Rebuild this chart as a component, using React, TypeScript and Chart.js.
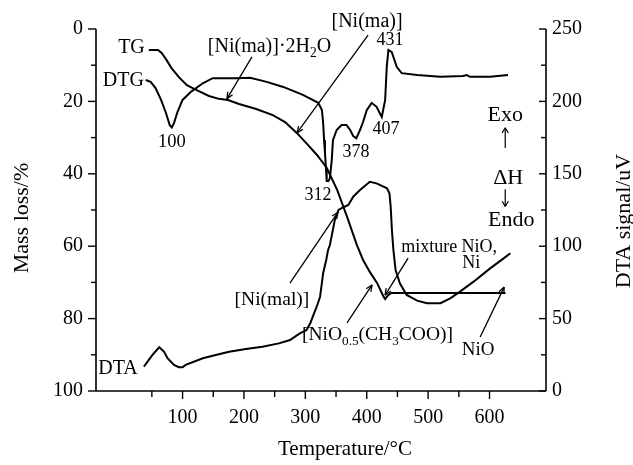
import React, { useEffect, useRef } from "react";
import { Chart, registerables } from "chart.js";

Chart.register(...registerables);

const FONT = '"Liberation Serif", "Times New Roman", Times, serif';

// ---- data (temperature °C) ----
const tgTemp = [45, 60, 66, 74, 82, 94, 107, 123, 143, 159, 174, 192, 220, 247, 267, 286, 303, 319, 335, 352, 368, 384, 394, 405, 417, 427, 430, 435, 440, 626];
const tgMass = [5.8, 5.8, 6.6, 8.6, 10.8, 13.3, 15.5, 16.9, 18.5, 19.3, 19.6, 20.7, 22.1, 23.8, 25.7, 28.7, 31.8, 34.8, 38.4, 44.5, 51.9, 59.7, 63.8, 67.1, 70.2, 73.8, 74.6, 73.5, 72.9, 72.9];

const dtgTemp = [40, 48, 56, 65, 73, 79, 82.5, 86, 92, 100, 114, 133, 149, 187, 210, 237, 264, 296, 321, 327, 329, 330.5, 332, 333.7, 334.8, 337.7, 340, 343, 345, 351, 359, 367, 373, 378, 383, 389, 394, 400, 408, 416, 424.5, 430, 432.6, 435.3, 440.8, 449, 457, 482, 520, 557, 563, 568, 601, 630];
const dtgValue = [14.1, 14.6, 16.3, 19.6, 23.2, 26.5, 27.2, 26.0, 22.8, 19.6, 17.3, 15.0, 13.6, 13.6, 13.5, 14.6, 16.0, 18.2, 20.4, 22.4, 26.0, 30.7, 34.3, 38.9, 42.0, 42.0, 41.2, 36.2, 30.7, 27.9, 26.5, 26.5, 27.9, 29.6, 30.2, 27.9, 25.7, 22.4, 20.4, 21.5, 24.3, 19.6, 10.5, 5.8, 6.4, 10.5, 12.2, 12.7, 13.2, 13.0, 12.7, 13.2, 13.2, 12.7];

const dtaTemp = [37, 51, 62, 70, 75.5, 86, 94, 100, 105, 133, 154, 176, 203, 230, 257, 275, 291, 302, 308, 318.5, 324, 329, 334, 337, 340, 348, 354, 362, 370, 378, 389, 405, 416, 433, 437, 439, 441, 443.4, 447, 454, 465, 482, 498, 520, 536, 552, 574, 601, 623, 634];
const dtaSignal = [16.8, 24.9, 30.2, 27.1, 22.6, 18.0, 16.4, 16.4, 18.0, 22.6, 24.9, 27.1, 29.0, 30.6, 32.9, 35.2, 39.8, 42.1, 46.8, 58.2, 65.1, 81.3, 90.5, 97.4, 100.8, 118.1, 125.0, 126.9, 128.5, 134.2, 138.8, 144.5, 143.4, 140.0, 136.5, 127.3, 111.2, 97.4, 83.6, 74.4, 66.3, 62.4, 60.6, 60.6, 64.0, 68.6, 75.5, 84.7, 91.6, 95.1];

// ---- axes ----
const xMin = -41;
const xMax = 692;
const xMajorTicks = [100, 200, 300, 400, 500, 600];
const xMinorTicks = [50, 150, 250, 350, 450, 550];
const massTicks = [0, 20, 40, 60, 80, 100];
const massMinorTicks = [10, 30, 50, 70, 90];
const dtaTicks = [0, 50, 100, 150, 200, 250];
const dtaMinorTicks = [25, 75, 125, 175, 225];

// ---- annotations (positions in temperature / mass-loss units) ----
type Part = [string, boolean?];
const notes: { parts: Part[]; t: number; m: number; align: CanvasTextAlign; size: number }[] = [
  { parts: [["TG"]], t: 38.5, m: 5.2, align: "right", size: 20 },
  { parts: [["DTG"]], t: 36.9, m: 14.4, align: "right", size: 20 },
  { parts: [["DTA"]], t: 27.1, m: 93.9, align: "right", size: 20 },
  { parts: [["100"]], t: 82.5, m: 31.2, align: "center", size: 18.5 },
  { parts: [["[Ni(ma)]·2H"], ["2", true], ["O"]], t: 141.2, m: 5.0, align: "left", size: 20 },
  { parts: [["[Ni(ma)]"]], t: 400.5, m: -1.9, align: "center", size: 20 },
  { parts: [["431"]], t: 438, m: 3.0, align: "center", size: 18 },
  { parts: [["407"]], t: 431.5, m: 27.6, align: "center", size: 18 },
  { parts: [["378"]], t: 382.6, m: 34.0, align: "center", size: 18 },
  { parts: [["312"]], t: 320.6, m: 45.9, align: "center", size: 18 },
  { parts: [["Exo"]], t: 625.6, m: 23.8, align: "center", size: 22 },
  { parts: [["ΔH"]], t: 630.5, m: 41.2, align: "center", size: 22 },
  { parts: [["Endo"]], t: 635.4, m: 52.8, align: "center", size: 22 },
  { parts: [["mixture NiO,"]], t: 534.2, m: 60.2, align: "center", size: 18 },
  { parts: [["Ni"]], t: 570.1, m: 64.6, align: "center", size: 18 },
  { parts: [["[NiO"], ["0.5", true], ["(CH"], ["3", true], ["COO)]"]], t: 294.5, m: 84.5, align: "left", size: 19.5 },
  { parts: [["[Ni(mal)]"]], t: 245.6, m: 74.9, align: "center", size: 19.5 },
  { parts: [["NiO"]], t: 581.5, m: 88.7, align: "center", size: 19 },
];

// vertical enthalpy arrows (Exo ↑ / Endo ↓): [temperature, from mass, to mass]
const hArrows: [number, number, number][] = [
  [625.6, 32.9, 27.3],
  [625.6, 44.3, 49.0],
];

const arrows: [number, number, number, number][] = [
  [213, 7.7, 172.2, 19.3],
  [402.2, 1.7, 286.4, 28.7],
  [467.4, 63.3, 429.9, 73.5],
  [367.9, 81.2, 408.7, 70.7],
  [274.9, 70.2, 353.2, 50.6],
  [584.8, 85.1, 623.9, 71.3],
];

function drawRich(ctx: CanvasRenderingContext2D, parts: Part[], x: number, y: number, size: number, align: CanvasTextAlign) {
  const sub = size * 0.68;
  let total = 0;
  const widths = parts.map(([s, isSub]) => {
    ctx.font = `${isSub ? sub : size}px ${FONT}`;
    const w = ctx.measureText(s).width;
    total += w;
    return w;
  });
  let cx = align === "left" ? x : align === "right" ? x - total : x - total / 2;
  ctx.textAlign = "left";
  ctx.textBaseline = "middle";
  parts.forEach(([s, isSub], i) => {
    ctx.font = `${isSub ? sub : size}px ${FONT}`;
    ctx.fillText(s, cx, isSub ? y + size * 0.32 : y);
    cx += widths[i];
  });
}

const decorPlugin = {
  id: "decor",
  afterDraw(chart: any) {
    const ctx: CanvasRenderingContext2D = chart.ctx;
    const xs = chart.scales.x;
    const yl = chart.scales.yMass;
    const yr = chart.scales.yDta;
    const { left, right, top, bottom } = chart.chartArea;
    ctx.save();
    ctx.strokeStyle = "#000";
    ctx.fillStyle = "#000";
    ctx.lineCap = "butt";
    const seg = (x1: number, y1: number, x2: number, y2: number) => {
      ctx.beginPath();
      ctx.moveTo(x1, y1);
      ctx.lineTo(x2, y2);
      ctx.stroke();
    };
    // axis lines
    ctx.lineWidth = 1.6;
    seg(left, top, left, bottom);
    seg(left, bottom, right, bottom);
    seg(right, top, right, bottom);
    // ticks
    ctx.lineWidth = 1.4;
    massTicks.forEach((v) => { const p = yl.getPixelForValue(v); seg(left - 8, p, left, p); });
    massMinorTicks.forEach((v) => { const p = yl.getPixelForValue(v); seg(left - 5, p, left, p); });
    dtaTicks.forEach((v) => { const p = yr.getPixelForValue(v); seg(right - 7, p, right, p); });
    dtaMinorTicks.forEach((v) => { const p = yr.getPixelForValue(v); seg(right - 5, p, right, p); });
    xMajorTicks.forEach((v) => { const p = xs.getPixelForValue(v); seg(p, bottom, p, bottom + 8); });
    xMinorTicks.forEach((v) => { const p = xs.getPixelForValue(v); seg(p, bottom, p, bottom + 6); });

    // arrows
    ctx.lineWidth = 1.3;
    const head = (x1: number, y1: number, x2: number, y2: number, L: number, a: number) => {
      const ang = Math.atan2(y2 - y1, x2 - x1);
      seg(x2, y2, x2 - L * Math.cos(ang - a), y2 - L * Math.sin(ang - a));
      seg(x2, y2, x2 - L * Math.cos(ang + a), y2 - L * Math.sin(ang + a));
    };
    arrows.forEach(([t1, m1, t2, m2]) => {
      const x1 = xs.getPixelForValue(t1), y1 = yl.getPixelForValue(m1);
      const x2 = xs.getPixelForValue(t2), y2 = yl.getPixelForValue(m2);
      seg(x1, y1, x2, y2);
      head(x1, y1, x2, y2, 7, 0.4);
    });
    ctx.lineWidth = 1.2;
    hArrows.forEach(([t, m1, m2]) => {
      const x = xs.getPixelForValue(t);
      const y1 = yl.getPixelForValue(m1), y2 = yl.getPixelForValue(m2);
      seg(x, y1, x, y2);
      head(x, y1, x, y2, 6, 0.55);
    });

    // annotation texts
    notes.forEach((n) => {
      drawRich(ctx, n.parts, xs.getPixelForValue(n.t), yl.getPixelForValue(n.m), n.size, n.align);
    });

    // axis titles
    ctx.font = `22px ${FONT}`;
    ctx.textAlign = "center";
    ctx.textBaseline = "middle";
    ctx.save();
    ctx.translate(22, 218);
    ctx.rotate(-Math.PI / 2);
    ctx.fillText("Mass loss/%", 0, 0);
    ctx.restore();
    ctx.save();
    ctx.translate(624, 221);
    ctx.rotate(-Math.PI / 2);
    ctx.fillText("DTA signal/uV", 0, 0);
    ctx.restore();
    ctx.font = `21px ${FONT}`;
    ctx.fillText("Temperature/°C", 345, 449);
    ctx.restore();
  },
};

export default function App() {
  const ref = useRef<HTMLCanvasElement | null>(null);
  useEffect(() => {
    if (!ref.current) return;
    const lineStyle = { borderColor: "#000", borderWidth: 2, pointRadius: 0, tension: 0, fill: false };
    const chart = new Chart(ref.current, {
      type: "line",
      data: {
        datasets: [
          { label: "TG", data: tgTemp.map((t, i) => ({ x: t, y: tgMass[i] })), yAxisID: "yMass", ...lineStyle },
          { label: "DTG", data: dtgTemp.map((t, i) => ({ x: t, y: dtgValue[i] })), yAxisID: "yMass", ...lineStyle },
          { label: "DTA", data: dtaTemp.map((t, i) => ({ x: t, y: dtaSignal[i] })), yAxisID: "yDta", ...lineStyle },
        ],
      },
      options: {
        animation: false,
        responsive: false,
        devicePixelRatio: 1,
        layout: { padding: { top: 29, left: 0, right: 0, bottom: 0 } },
        plugins: { legend: { display: false }, tooltip: { enabled: false } },
        scales: {
          x: {
            type: "linear",
            min: xMin,
            max: xMax,
            grid: { display: false, drawTicks: false },
            border: { display: false },
            afterBuildTicks: (s: any) => { s.ticks = xMajorTicks.map((v) => ({ value: v })); },
            afterFit: (s: any) => { s.height = 74; },
            ticks: { color: "#000", font: { family: FONT, size: 20 }, padding: 15, maxRotation: 0, autoSkip: false },
          },
          yMass: {
            type: "linear",
            position: "left",
            reverse: true,
            min: 0,
            max: 100,
            grid: { display: false, drawTicks: false },
            border: { display: false },
            afterBuildTicks: (s: any) => { s.ticks = massTicks.map((v) => ({ value: v })); },
            afterFit: (s: any) => { s.width = 96; },
            ticks: { color: "#000", font: { family: FONT, size: 20 }, padding: 13 },
          },
          yDta: {
            type: "linear",
            position: "right",
            min: 0,
            max: 250,
            grid: { display: false, drawTicks: false },
            border: { display: false },
            afterBuildTicks: (s: any) => { s.ticks = dtaTicks.map((v) => ({ value: v })); },
            afterFit: (s: any) => { s.width = 87; },
            ticks: { color: "#000", font: { family: FONT, size: 20 }, padding: 6 },
          },
        },
      },
      plugins: [decorPlugin],
    } as any);
    return () => chart.destroy();
  }, []);
  return (
    <div style={{ position: "fixed", left: 0, top: 0, width: 633, height: 465, background: "#fff" }}>
      <canvas ref={ref} width={633} height={465} style={{ display: "block", width: 633, height: 465 }} />
    </div>
  );
}
